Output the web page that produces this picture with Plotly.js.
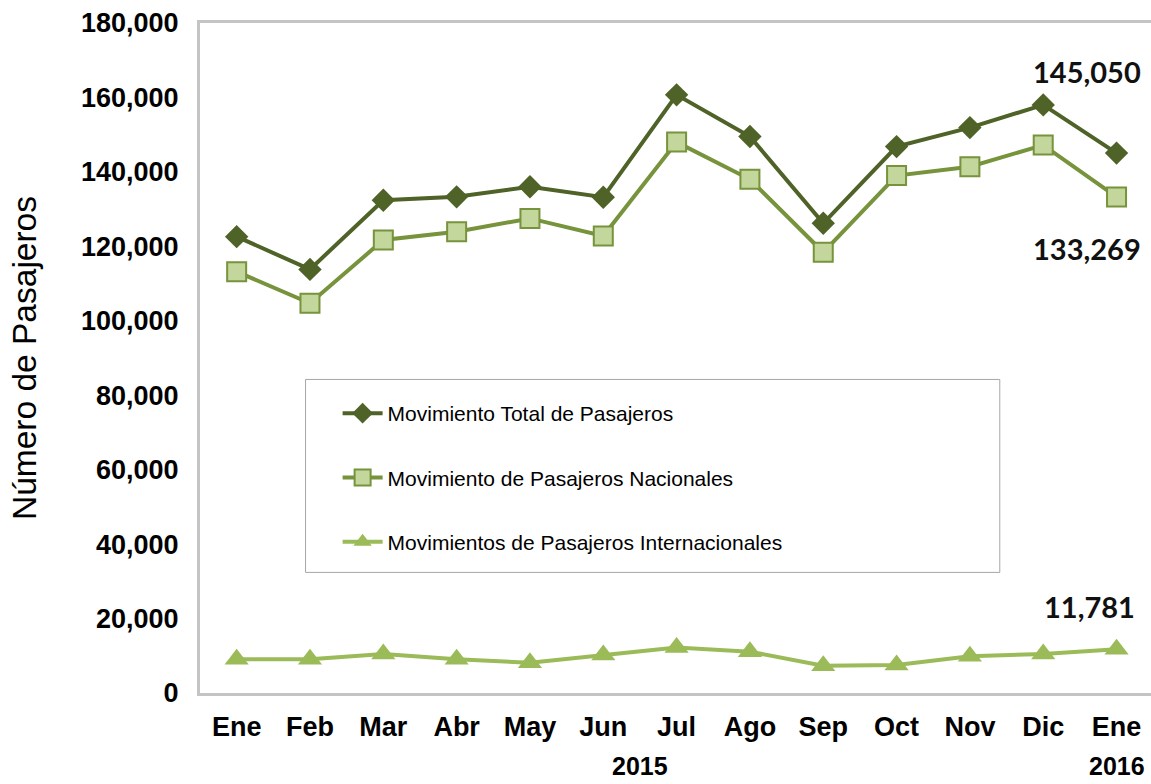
<!DOCTYPE html>
<html>
<head>
<meta charset="utf-8">
<script src="https://cdn.plot.ly/plotly-3.0.1.min.js"></script>
<style>html,body{margin:0;padding:0;background:#fff;}#chart{width:1151px;height:784px;}</style>
</head>
<body>
<div id="chart"></div>
<script>
// ---- data ----
const months = ["Ene","Feb","Mar","Abr","May","Jun","Jul","Ago","Sep","Oct","Nov","Dic","Ene"];
const years = ["2015","2016"];
const totalPasajeros = [122600,113800,132400,133300,136000,133200,160700,149500,126200,146800,151900,158000,145050];
const nacionales     = [113200,104700,121700,123900,127500,122800,148000,138000,118400,139000,141400,147200,133269];
const internacionales= [9100,9100,10500,9100,8100,10200,12200,11100,7300,7500,9900,10500,11781];
const seriesNames = ["Movimiento Total de Pasajeros","Movimiento de Pasajeros Nacionales","Movimientos de Pasajeros Internacionales"];
const yTickVals = [0,20000,40000,60000,80000,100000,120000,140000,160000,180000];

const xIdx = months.map((m, i) => i);
const last = months.length - 1;

const traces = [
  {x: xIdx, y: totalPasajeros, name: seriesNames[0], legendgroup: "a", mode: "lines+markers",
   line: {color: "#4F6228", width: 4}, marker: {symbol: "diamond", size: 18, color: "#4F6228"}},
  {x: xIdx, y: nacionales, name: seriesNames[1], legendgroup: "b", mode: "lines+markers",
   line: {color: "#77933C", width: 4}, marker: {symbol: "square", size: 19, color: "#C3D69B", line: {color: "#77933C", width: 2}}},
  {x: xIdx, y: internacionales, name: seriesNames[2], legendgroup: "c", mode: "lines+markers",
   line: {color: "#9BBB59", width: 4}, marker: {symbol: "triangle-up", size: 21, color: "#9BBB59"}}
];

const fmt = v => v.toLocaleString("en-US");
const labelFont = {family: "Lato, 'Open Sans', sans-serif", size: 29, color: "#111", weight: "bold"};
const tickFont = {family: "'Liberation Sans', Arial, sans-serif", size: 27, color: "#000", weight: "bold"};
const yearFont = {family: "'Liberation Sans', Arial, sans-serif", size: 25, color: "#000", weight: "bold"};

const layout = {
  width: 1151, height: 784,
  margin: {l: 200, r: 0, t: 23, b: 91},
  paper_bgcolor: "#fff", plot_bgcolor: "#fff",
  showlegend: true,
  legend: {
    x: 0.1447, y: 0.4477, xanchor: "left", yanchor: "top",
    bgcolor: "rgba(0,0,0,0)", borderwidth: 0,
    tracegroupgap: 34, itemwidth: 40,
    font: {family: "'Liberation Sans', Arial, sans-serif", size: 21, color: "#000"}
  },
  xaxis: {
    range: [-0.5, 12.47], tickvals: xIdx, ticktext: months,
    showgrid: false, zeroline: false,
    showline: true, mirror: true, linecolor: "#C4C4C4", linewidth: 3,
    ticks: "outside", ticklen: 8, tickcolor: "rgba(0,0,0,0)",
    tickfont: tickFont
  },
  yaxis: {
    range: [0, 180000], tickvals: yTickVals, ticktext: yTickVals.map(fmt),
    showgrid: false, zeroline: false,
    showline: true, linecolor: "#C4C4C4", linewidth: 3,
    ticks: "outside", ticklen: 13, tickcolor: "rgba(0,0,0,0)",
    tickfont: tickFont,
    title: {text: "Número de Pasajeros", standoff: 35,
            font: {family: "'Liberation Sans', Arial, sans-serif", size: 33.5, color: "#000"}}
  },
  shapes: [
    {type: "rect", xref: "paper", yref: "paper", x0: 0.111, x1: 0.841, y0: 0.18, y1: 0.468,
     line: {color: "#A6A6A6", width: 1}, fillcolor: "rgba(0,0,0,0)", layer: "below"}
  ],
  annotations: [
    {x: last, y: totalPasajeros[last], xref: "x", yref: "y", text: fmt(totalPasajeros[last]),
     showarrow: false, xshift: -30, yshift: 82, font: labelFont},
    {x: last, y: nacionales[last], xref: "x", yref: "y", text: fmt(nacionales[last]),
     showarrow: false, xshift: -30, yshift: -52, font: labelFont},
    {x: last, y: internacionales[last], xref: "x", yref: "y", text: fmt(internacionales[last]),
     showarrow: false, xshift: -27, yshift: 43, font: labelFont},
    {x: (last - 1) / 2, y: 0, xref: "x", yref: "paper", text: years[0], showarrow: false,
     yanchor: "top", yshift: -57, font: yearFont},
    {x: last, y: 0, xref: "x", yref: "paper", text: years[1], showarrow: false,
     yanchor: "top", yshift: -57, font: yearFont}
  ]
};

Plotly.newPlot("chart", traces, layout, {staticPlot: true, displayModeBar: false});
</script>
</body>
</html>
